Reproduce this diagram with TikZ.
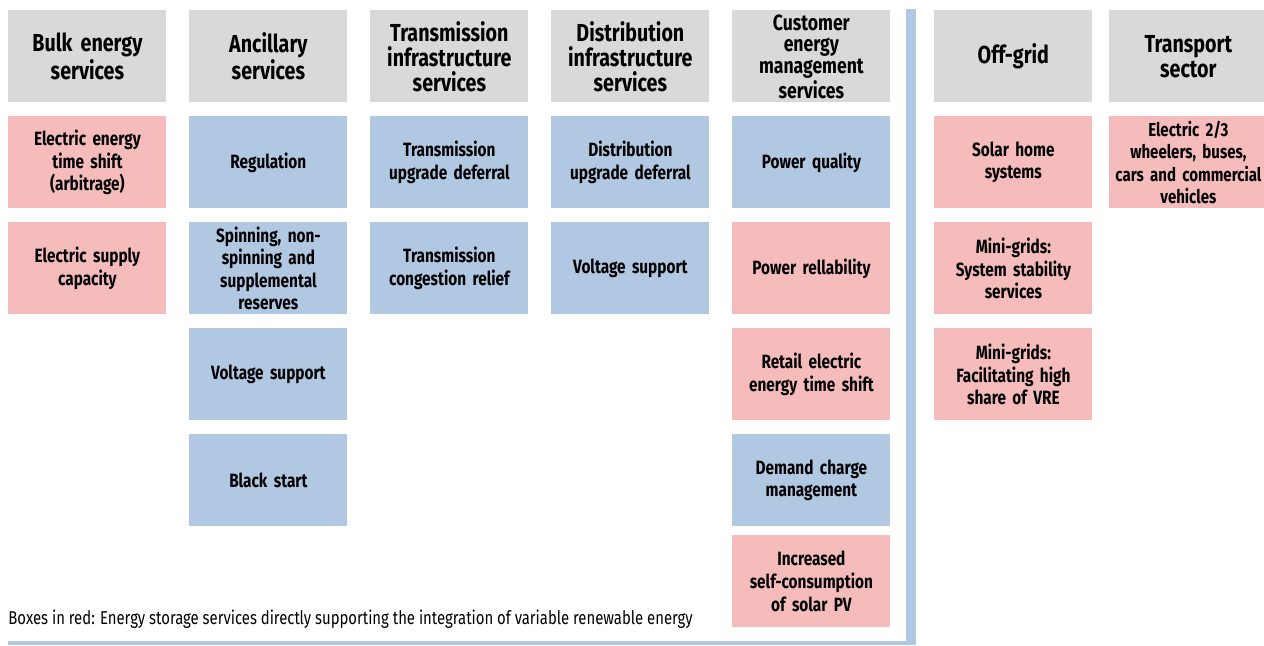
\documentclass[tikz,border=0pt]{standalone}
\usepackage{fontspec}
\setmainfont{Fira Sans}[FakeStretch=0.8]
\usetikzlibrary{matrix}
\definecolor{hdgray}{HTML}{D9D9D9}
\definecolor{vrered}{HTML}{F6BCBC}
\definecolor{svcblue}{HTML}{B0C8E2}

\begin{document}
\begin{tikzpicture}[x=0.5pt,y=-0.5pt,
    hd/.style={fill=hdgray,font=\bfseries\fontsize{12.3}{12.5}\selectfont},
    rb/.style={fill=vrered},
    bb/.style={fill=svcblue}]
  \useasboundingbox (0,0) rectangle (1264,645);
  \matrix[matrix of nodes,anchor=north west,inner sep=0pt,column sep=11.5pt,row sep=7pt,
    nodes={anchor=center,align=center,text width=75pt,minimum height=46pt,
      inner xsep=2pt,inner ysep=0.5pt,font=\bfseries\fontsize{9.6}{11.3}\selectfont}] (grid) at (8,10) {
    |[hd]| {Bulk energy\\services} & |[hd]| {Ancillary\\services} &
    |[hd]| {Transmission\\infrastructure\\services} & |[hd]| {Distribution\\infrastructure\\services} &
    |[hd,font=\bfseries\fontsize{11}{10.8}\selectfont]| {Customer\\energy\\management\\services} &[10.5pt]
    |[hd]| {Off-grid} &[-3pt] |[hd]| {Transport\\sector} \\
    |[rb]| {Electric energy\\time shift\\(arbitrage)} & |[bb]| Regulation &
    |[bb]| {Transmission\\upgrade deferral} & |[bb]| {Distribution\\upgrade deferral} &
    |[bb]| Power quality & |[rb]| {Solar home\\systems} &
    |[rb,font=\bfseries\fontsize{9.4}{11.3}\selectfont]| {Electric 2/3\\wheelers, buses,\\cars and commercial\\vehicles} \\
    |[rb]| {Electric supply\\capacity} & |[bb]| {Spinning, non-\\spinning and\\supplemental\\reserves} &
    |[bb]| {Transmission\\congestion relief} & |[bb]| {Voltage support} &
    |[rb]| {Power rellability} & |[rb]| {Mini-grids:\\System stability\\services} & \\
    & |[bb]| {Voltage support} & & & |[rb]| {Retail electric\\energy time shift} &
    |[rb]| {Mini-grids:\\Facilitating high\\share of VRE} & \\
    & |[bb]| {Black start} & & & |[bb]| {Demand charge\\management} & & \\[-2.5pt]
    & & & & |[rb]| {Increased\\self-consumption\\of solar PV} & & \\
  };
  % separator
  \fill[svcblue] (906,9) rectangle (916,645);
  \fill[svcblue] (8,641) rectangle (916,645);
  \node[anchor=base west,inner sep=0pt,font=\fontsize{9.3}{11}\selectfont] (note) at (8,624)
    {Boxes in red: Energy storage services directly supporting the integration of variable renewable energy};
\end{tikzpicture}
\end{document}
